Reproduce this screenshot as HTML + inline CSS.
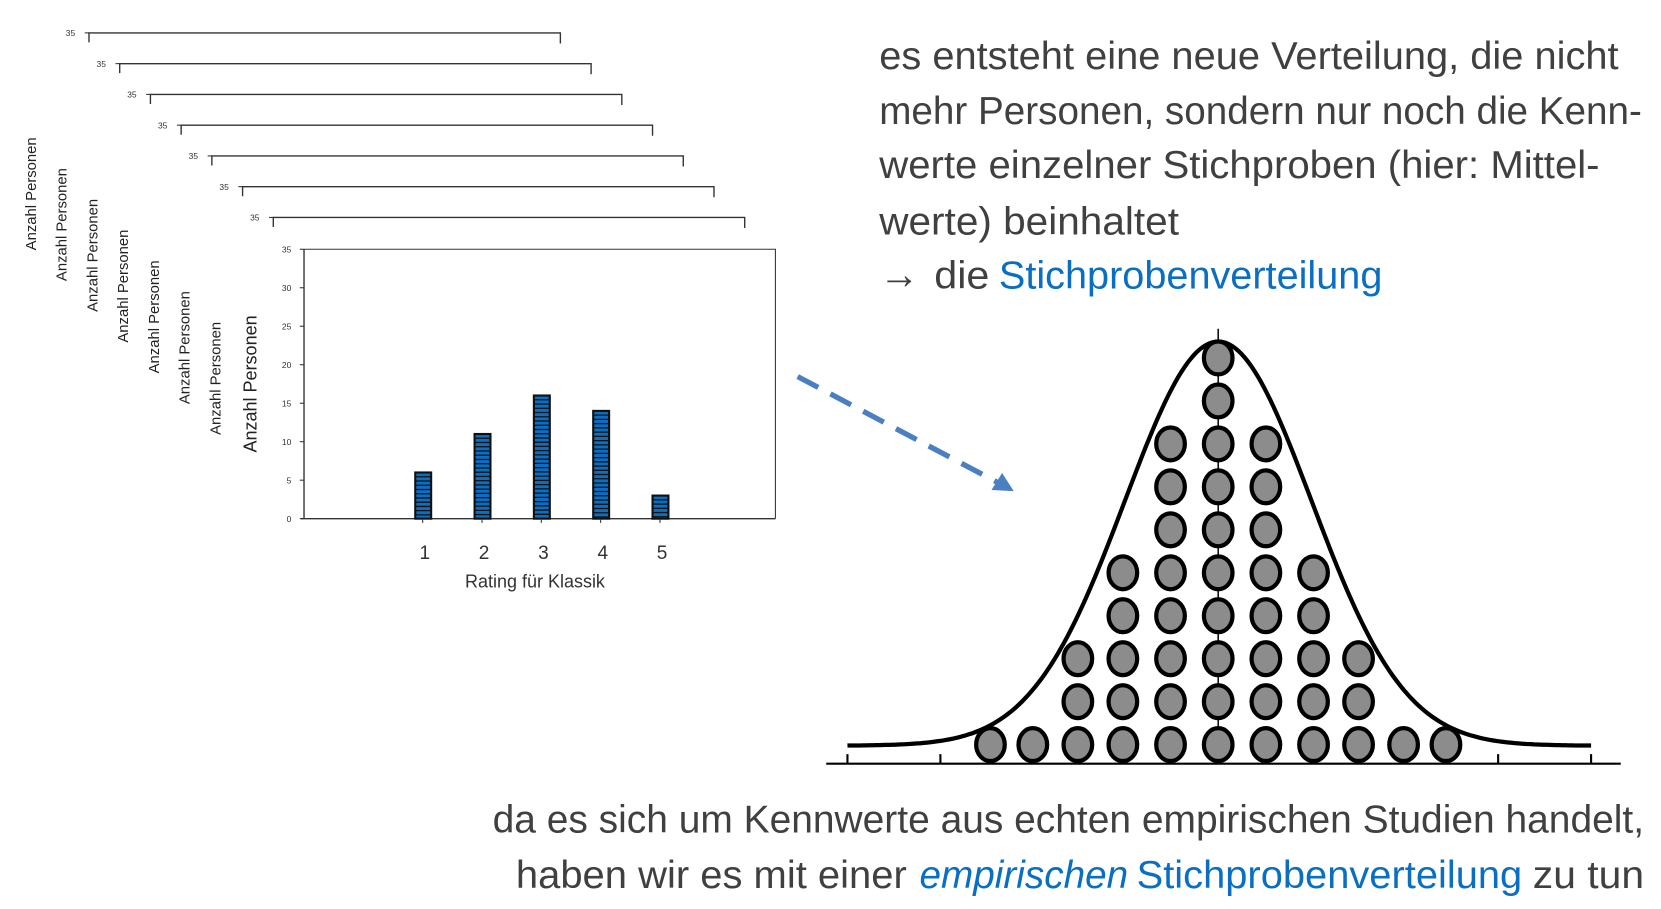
<!DOCTYPE html>
<html><head><meta charset="utf-8"><style>
html,body{margin:0;padding:0;background:#fff;}
svg{display:block;}
.t{font-family:"Liberation Sans Narrow","Liberation Sans",sans-serif;fill:#404040;}
.b{fill:#0a6fc2;}
</style></head><body>
<svg id="root" width="1661" height="909" viewBox="0 0 1568 857" preserveAspectRatio="none" xmlns="http://www.w3.org/2000/svg">
<g id="stack"></g>
<g id="bars"></g>
<g>
  <line x1="753" y1="355" x2="942" y2="455" stroke="#4a7fc1" stroke-width="5" stroke-dasharray="22,13"/>
  <polygon points="957,463 936,462 946,446" fill="#4a7fc1"/>
</g>
<g id="dist"></g>
<g>
  <text class="t" x="830" y="65" font-size="37" textLength="698" lengthAdjust="spacingAndGlyphs">es entsteht eine neue Verteilung, die nicht</text>
  <text class="t" x="830" y="117" font-size="37" textLength="720" lengthAdjust="spacingAndGlyphs">mehr Personen, sondern nur noch die Kenn-</text>
  <text class="t" x="830" y="168" font-size="37" textLength="680" lengthAdjust="spacingAndGlyphs">werte einzelner Stichproben (hier: Mittel-</text>
  <text class="t" x="830" y="221" font-size="37" textLength="283" lengthAdjust="spacingAndGlyphs">werte) beinhaltet</text>
  <text class="t" x="830" y="272" font-size="40" textLength="38" lengthAdjust="spacingAndGlyphs">→</text>
  <text class="t" x="882" y="272" font-size="37" textLength="52" lengthAdjust="spacingAndGlyphs">die</text>
  <text class="t b" x="943" y="272" font-size="37" textLength="362" lengthAdjust="spacingAndGlyphs">Stichprobenverteilung</text>
  <text class="t" x="465" y="785" font-size="37" textLength="1087" lengthAdjust="spacingAndGlyphs">da es sich um Kennwerte aus echten empirischen Studien handelt,</text>
  <text class="t" x="487" y="837" font-size="37" textLength="369" lengthAdjust="spacingAndGlyphs">haben wir es mit einer</text>
  <text class="t b" x="868" y="837" font-size="37" font-style="italic" textLength="197" lengthAdjust="spacingAndGlyphs">empirischen</text>
  <text class="t b" x="1073" y="837" font-size="37" textLength="364" lengthAdjust="spacingAndGlyphs">Stichprobenverteilung</text>
  <text class="t" x="1447" y="837" font-size="37" textLength="105" lengthAdjust="spacingAndGlyphs">zu tun</text>
</g>
</svg>
<script>
const NS="http://www.w3.org/2000/svg";
// bar chart data
const categories=["1","2","3","4","5"];
const counts=[6,11,16,14,3];
const yTicks=[0,5,10,15,20,25,30,35];
// dot distribution data: dots per column
const dotColumns=[1,1,3,5,8,10,8,5,3,1,1];
const stackCount=7;

function mk(tag,attrs,parent){const e=document.createElementNS(NS,tag);for(const k in attrs)e.setAttribute(k,attrs[k]);parent.appendChild(e);return e;}

// stacked frames
const st=document.getElementById('stack');
for(let i=0;i<stackCount;i++){
  const x=84+29*i,y=31+29*i;
  const g=mk('g',{},st);
  
  
  mk('rect',{x:x-60,y:y,width:470,height:430,fill:'#fff'},g);
  mk('path',{d:`M${x} ${y+9}V${y}H${x+445}V${y+10}`,fill:'none',stroke:'#333','stroke-width':1.3},g);
  mk('line',{x1:x-4,y1:y,x2:x,y2:y,stroke:'#333'},g);
  const t=mk('text',{x:x-13,y:y+3,'font-size':8,'text-anchor':'end','font-family':'Liberation Sans,sans-serif',fill:'#333'},g);t.textContent='35';
  const l=mk('text',{transform:`translate(${x-50},${y+205}) rotate(-90)`,'font-size':14,'font-family':'Liberation Sans,sans-serif',fill:'#222'},g);
  
  
  l.textContent='Anzahl Personen';
}

// bar chart
const bg=document.getElementById('bars');
const X0=287,Y0=489,Y1=235,XR=732;
const ys=v=>Y0-(v/35)*(Y0-Y1);
const xs=i=>399+i*56;
mk('rect',{x:250,y:Y1-6,width:500,height:340,fill:'#fff'},bg);
mk('path',{d:`M${X0} ${Y1}H${XR}V${Y0}`,fill:'none',stroke:'#333','stroke-width':1},bg);
mk('line',{x1:X0,y1:Y1,x2:X0,y2:Y0,stroke:'#333','stroke-width':1.3},bg);
mk('line',{x1:X0-3,y1:Y0,x2:XR,y2:Y0,stroke:'#333','stroke-width':1.3},bg);
yTicks.forEach(v=>{
  mk('line',{x1:X0-4,y1:ys(v),x2:X0,y2:ys(v),stroke:'#333'},bg);
  const t=mk('text',{x:X0-12,y:ys(v)+3,'font-size':8,'text-anchor':'end','font-family':'Liberation Sans,sans-serif',fill:'#333'},bg);
  
  
  t.textContent=v;
});
const yt=mk('text',{transform:'translate(242,362) rotate(-90)','font-size':17,'text-anchor':'middle','font-family':'Liberation Sans,sans-serif',fill:'#222'},bg);


yt.textContent='Anzahl Personen';
counts.forEach((v,i)=>{
  const x=xs(i)-7,top=ys(v);
  const r=mk('rect',{x:x,y:top,width:15,height:Y0-top,fill:'#0a6fc2',stroke:'#111','stroke-width':2},bg);
  
  
  for(let yy=top+4;yy<Y0-1;yy+=4){mk('line',{x1:x,y1:yy,x2:x+15,y2:yy,stroke:'#111','stroke-width':1.2},bg);}
  mk('line',{x1:xs(i),y1:Y0,x2:xs(i),y2:Y0+4,stroke:'#333'},bg);
  const t=mk('text',{x:xs(i)+2,y:527,'font-size':18,'text-anchor':'middle','font-family':'Liberation Sans Narrow,Liberation Sans,sans-serif',fill:'#333'},bg);
  
  
  t.textContent=categories[i];
});
const xt=mk('text',{x:505,y:554,'font-size':17,'text-anchor':'middle','font-family':'Liberation Sans Narrow,Liberation Sans,sans-serif',fill:'#333'},bg);


xt.textContent='Rating für Klassik';

// distribution
const dg=document.getElementById('dist');
const cx=1150,base=702,rowH=40.5,colW=45;
const colX=i=>{const d=i-5;const a=Math.abs(d);const off=a<=4?a*colW-(a===4?2:0):178+(a-4)*37;return cx+Math.sign(d)*(a<=4?a*45-(a>=3?(a-2)*2.5:0):off)};
mk('line',{x1:cx,y1:310,x2:cx,y2:720,stroke:'#111','stroke-width':1.5},dg);
let d='';
for(let x=800;x<=1502;x+=3){const z=(x-cx)/88;const y=703-381*Math.exp(-z*z/2);d+=(x===800?'M':'L')+x+' '+y.toFixed(1);}
const c=mk('path',{d:d,fill:'none',stroke:'#000','stroke-width':4},dg);


mk('line',{x1:780,y1:720,x2:1530,y2:720,stroke:'#000','stroke-width':2},dg);
for(let k=0;k<9;k++){const x=800+k*87.75;mk('line',{x1:x,y1:711,x2:x,y2:720,stroke:'#000','stroke-width':2},dg);}
dotColumns.forEach((n,i)=>{
  for(let r=0;r<n;r++){
    const e=mk('ellipse',{cx:colX(i),cy:base-r*rowH,rx:13.5,ry:15.5,fill:'#8c8c8c',stroke:'#000','stroke-width':4},dg);
    
    
  }
});
</script>
</body></html>
